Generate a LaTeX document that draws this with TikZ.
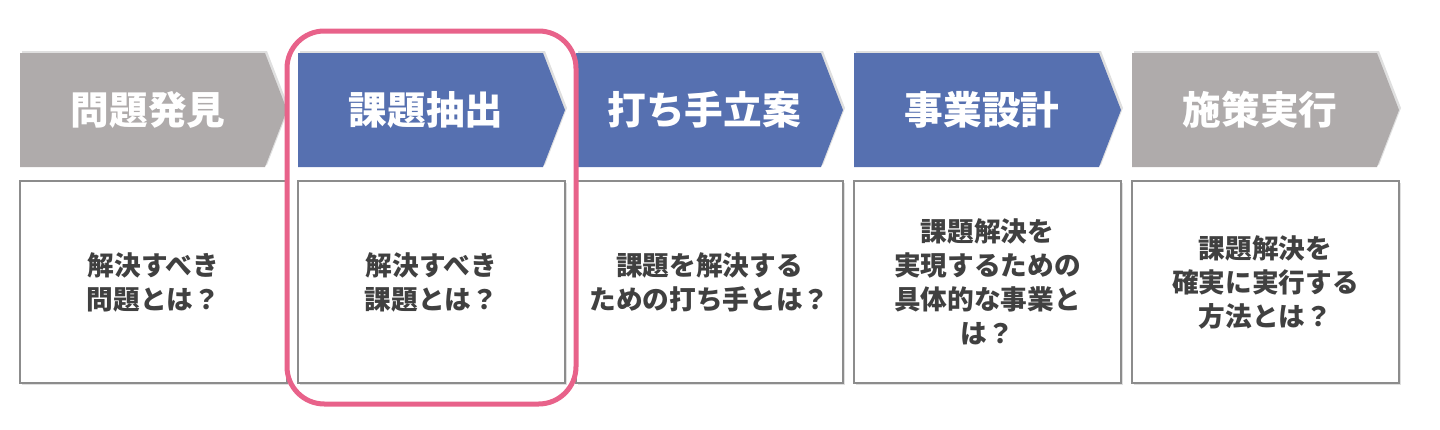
\documentclass[tikz,border=0pt]{standalone}
\usepackage{fontspec}
\setmainfont{Noto Sans CJK JP}
\definecolor{stepgray}{RGB}{175,171,171}
\definecolor{stepblue}{RGB}{86,112,176}
\definecolor{markpink}{RGB}{232,98,138}
\definecolor{textgray}{RGB}{64,64,64}
\usetikzlibrary{shadows}

\begin{document}
\begin{tikzpicture}[x=0.75pt,y=0.75pt,yscale=-1,xscale=1,
	stepshadow/.style={drop shadow={shadow xshift=1.5pt,shadow yshift=1.5pt,opacity=0.25}},
	boxshadow/.style={drop shadow={shadow xshift=1.5pt,shadow yshift=-1.5pt,opacity=0.25}},
	steptitle/.style={text=white,inner sep=0pt,font=\fontsize{29}{32}\selectfont\bfseries},
	qbox/.style={draw=black!45,line width=0.8pt,fill=white,boxshadow,minimum width=200.25pt,minimum height=151.5pt,inner sep=2pt,align=center,text=textgray,font=\fontsize{20}{25.5}\selectfont\bfseries}]
	\useasboundingbox (0,0) rectangle (1440,429);
	
	%Shape: Chevron [id:step1] 
	\fill [stepgray,stepshadow] (20,53) -- (265,53) -- (287,110) -- (265,167) -- (20,167) -- cycle ;
	%Shape: Chevron [id:step2] 
	\fill [stepblue,stepshadow] (298,53) -- (543,53) -- (565,110) -- (543,167) -- (298,167) -- cycle ;
	%Shape: Chevron [id:step3] 
	\fill [stepblue,stepshadow] (576,53) -- (821,53) -- (843,110) -- (821,167) -- (576,167) -- cycle ;
	%Shape: Chevron [id:step4] 
	\fill [stepblue,stepshadow] (854,53) -- (1099,53) -- (1121,110) -- (1099,167) -- (854,167) -- cycle ;
	%Shape: Chevron [id:step5] 
	\fill [stepgray,stepshadow] (1132,53) -- (1377,53) -- (1399,110) -- (1377,167) -- (1132,167) -- cycle ;
	
	% Text Node
	\node [steptitle] (t1) at (148,110) {問題発見};
	% Text Node
	\node [steptitle] (t2) at (426,110) {課題抽出};
	% Text Node
	\node [steptitle] (t3) at (704,110) {打ち手立案};
	% Text Node
	\node [steptitle] (t4) at (982,110) {事業設計};
	% Text Node
	\node [steptitle] (t5) at (1260,110) {施策実行};
	
	% Text Node
	\node [qbox] (q1) at (153.5,282) {解決すべき\\問題とは？};
	% Text Node
	\node [qbox] (q2) at (431.5,282) {解決すべき\\課題とは？};
	% Text Node
	\node [qbox] (q3) at (709.5,282) {課題を解決する\\ための打ち手とは？};
	% Text Node
	\node [qbox] (q4) at (987.5,282) {課題解決を\\実現するための\\具体的な事業と\\は？};
	% Text Node
	\node [qbox] (q5) at (1265.5,282) {課題解決を\\確実に実行する\\方法とは？};
	
	%Shape: Rounded Rect [id:focus] 
	\draw [markpink,line width=3.75pt,rounded corners=28pt] (287,31) rectangle (576,404) ;
	
\end{tikzpicture}
\end{document}
